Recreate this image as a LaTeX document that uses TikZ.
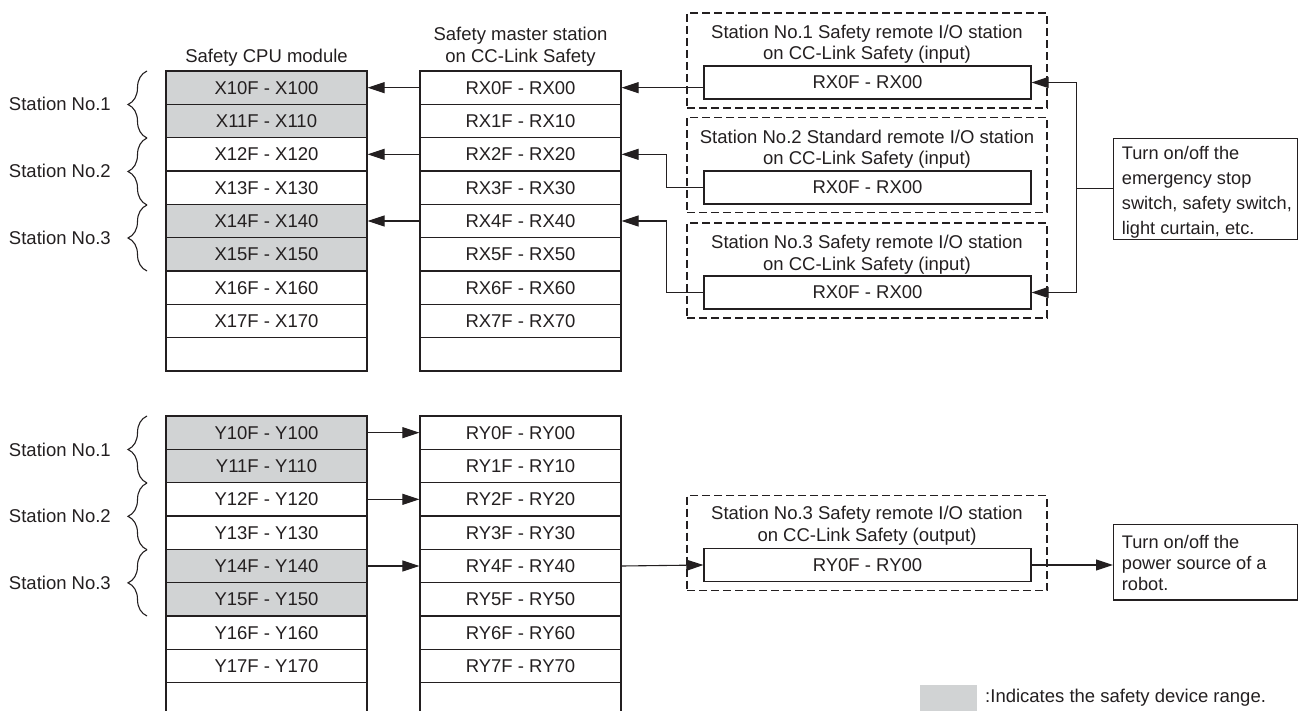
\documentclass[tikz,border=0pt]{standalone}
\usepackage{fontspec}
\setmainfont{Liberation Sans}
\usetikzlibrary{arrows.meta,decorations.pathreplacing,calc}
\definecolor{ink}{HTML}{231F20}
\definecolor{safe}{HTML}{D1D3D4}
\begin{document}
\begin{tikzpicture}[x=1pt,y=-1pt,
  every node/.style={text=ink},
  font=\fontsize{18.5}{21.5}\selectfont,
  cell/.style={draw=ink, line width=1.3pt, minimum width=201pt, minimum height=33.33pt, inner sep=0pt},
  inbox/.style={draw=ink, line width=1.2pt, minimum width=327pt, minimum height=33pt, inner sep=0pt},
  dbox/.style={draw=ink, line width=1.1pt, dash pattern=on 8pt off 4pt, minimum width=360pt, minimum height=95pt, inner sep=0pt},
  plainbox/.style={draw=ink, line width=1.2pt, minimum width=184pt, inner sep=0pt, anchor=north west},
  conn/.style={draw=ink, line width=1.1pt, -{Triangle[length=17pt,width=11pt]}},
  wire/.style={draw=ink, line width=1.1pt},
  brc/.style={draw=ink, line width=1.1pt, decorate, decoration={brace, amplitude=19pt}},
  lbl/.style={inner sep=0pt, anchor=east},
  multi/.style={align=center, inner sep=0pt}]
\useasboundingbox (0,0) rectangle (1300,711);

% ---------- headers ----------
\node[inner sep=0pt] (hcpu) at (266.5,58) {Safety CPU module};
\node[multi] (hms) at (520.5,46.5) {Safety master station\\on CC-Link Safety};

% ---------- top tables ----------
\foreach \i/\f in {0/safe,1/safe,2/white,3/white,4/safe,5/safe,6/white,7/white,8/white}{
  \node[cell, fill=\f] (cx\i) at (266.5,{71+33.333*(\i+0.5)}) {\ifnum\i<8 X1\i F - X1\i 0\fi};
  \node[cell] (mx\i) at (520.5,{71+33.333*(\i+0.5)}) {\ifnum\i<8 RX\i F - RX\i 0\fi};
}
% ---------- bottom tables ----------
\foreach \i/\f in {0/safe,1/safe,2/white,3/white,4/safe,5/safe,6/white,7/white,8/white}{
  \node[cell, fill=\f] (cy\i) at (266.5,{416+33.333*(\i+0.5)}) {\ifnum\i<8 Y1\i F - Y1\i 0\fi};
  \node[cell] (my\i) at (520.5,{416+33.333*(\i+0.5)}) {\ifnum\i<8 RY\i F - RY\i 0\fi};
}

% ---------- braces and station labels ----------
\draw[brc] (147,138) -- (147,71);
\draw[brc] (147,205) -- (147,138);
\draw[brc] (147,271) -- (147,205);
\node[lbl] (sa1) at (111,104) {Station No.1};
\node[lbl] (sa2) at (111,171) {Station No.2};
\node[lbl] (sa3) at (111,238) {Station No.3};
\draw[brc] (147,483) -- (147,416);
\draw[brc] (147,549.7) -- (147,483);
\draw[brc] (147,616) -- (147,549.7);
\node[lbl] (sb1) at (111,450) {Station No.1};
\node[lbl] (sb2) at (111,516) {Station No.2};
\node[lbl] (sb3) at (111,583) {Station No.3};

% ---------- remote stations (input) ----------
\node[dbox] (d1) at (867,60.5) {};
\node[multi] (t1) at (867,44) {Station No.1 Safety remote I/O station\\on CC-Link Safety (input)};
\node[inbox] (in1) at (867.5,82.5) {RX0F - RX00};

\node[dbox] (d2) at (867,165) {};
\node[multi] (t2) at (867,149) {Station No.2 Standard remote I/O station\\on CC-Link Safety (input)};
\node[inbox] (in2) at (867.5,187.5) {RX0F - RX00};

\node[dbox] (d3) at (867,270.5) {};
\node[multi] (t3) at (867,254.5) {Station No.3 Safety remote I/O station\\on CC-Link Safety (input)};
\node[inbox] (in3) at (867.5,292.5) {RX0F - RX00};

% ---------- remote station (output) ----------
\node[dbox] (d4) at (867,543) {};
\node[multi] (t4) at (867,525.5) {Station No.3 Safety remote I/O station\\on CC-Link Safety (output)};
\node[inbox] (out) at (867.5,565) {RY0F - RY00};

% ---------- right boxes ----------
\node[plainbox, minimum height=101.6pt] (sw) at (1113,137.7) {};
\node[inner sep=0pt, anchor=west, align=left, font=\fontsize{18.2}{25}\selectfont] (swt) at (1121.7,192) {Turn on/off the\\emergency stop\\switch, safety switch,\\light curtain, etc.};
\node[plainbox, minimum height=75.3pt] (rb) at (1113,524) {};
\node[inner sep=0pt, anchor=west, align=left, font=\fontsize{18.2}{21.3}\selectfont] (rbt) at (1121.7,563) {Turn on/off the\\power source of a\\robot.};

% ---------- legend ----------
\node[fill=safe, minimum width=57pt, minimum height=30pt, inner sep=0pt, anchor=north west] (leg) at (920,685) {};
\node[inner sep=0pt, anchor=west] (legt) at (985,698) {:Indicates the safety device range.};

% ---------- connectors (inputs) ----------
\draw[conn] (mx0.west) -- (cx0.east);
\draw[conn] (mx2.west) -- (cx2.east);
\draw[conn] (mx4.west) -- (cx4.east);
\draw[conn] (in1.west |- mx0.east) -- (mx0.east);
\draw[conn] (in2.west) -- ++(-37,0) |- (mx2.east);
\draw[conn] (in3.west) -- ++(-37,0) |- (mx4.east);
\coordinate (j) at (1076.7,188.5);
\draw[wire] (sw.west |- j) -- (j);
\draw[conn] (j) |- (in1.east);
\draw[conn] (j) |- (in3.east);

% ---------- connectors (outputs) ----------
\draw[conn] (cy0.east) -- (my0.west);
\draw[conn] (cy2.east) -- (my2.west);
\draw[conn] (cy4.east) -- (my4.west);
\draw[conn] (my4.east) -- (out.west);
\draw[conn] (out.east) -- (rb.west |- out.east);
\end{tikzpicture}
\end{document}
